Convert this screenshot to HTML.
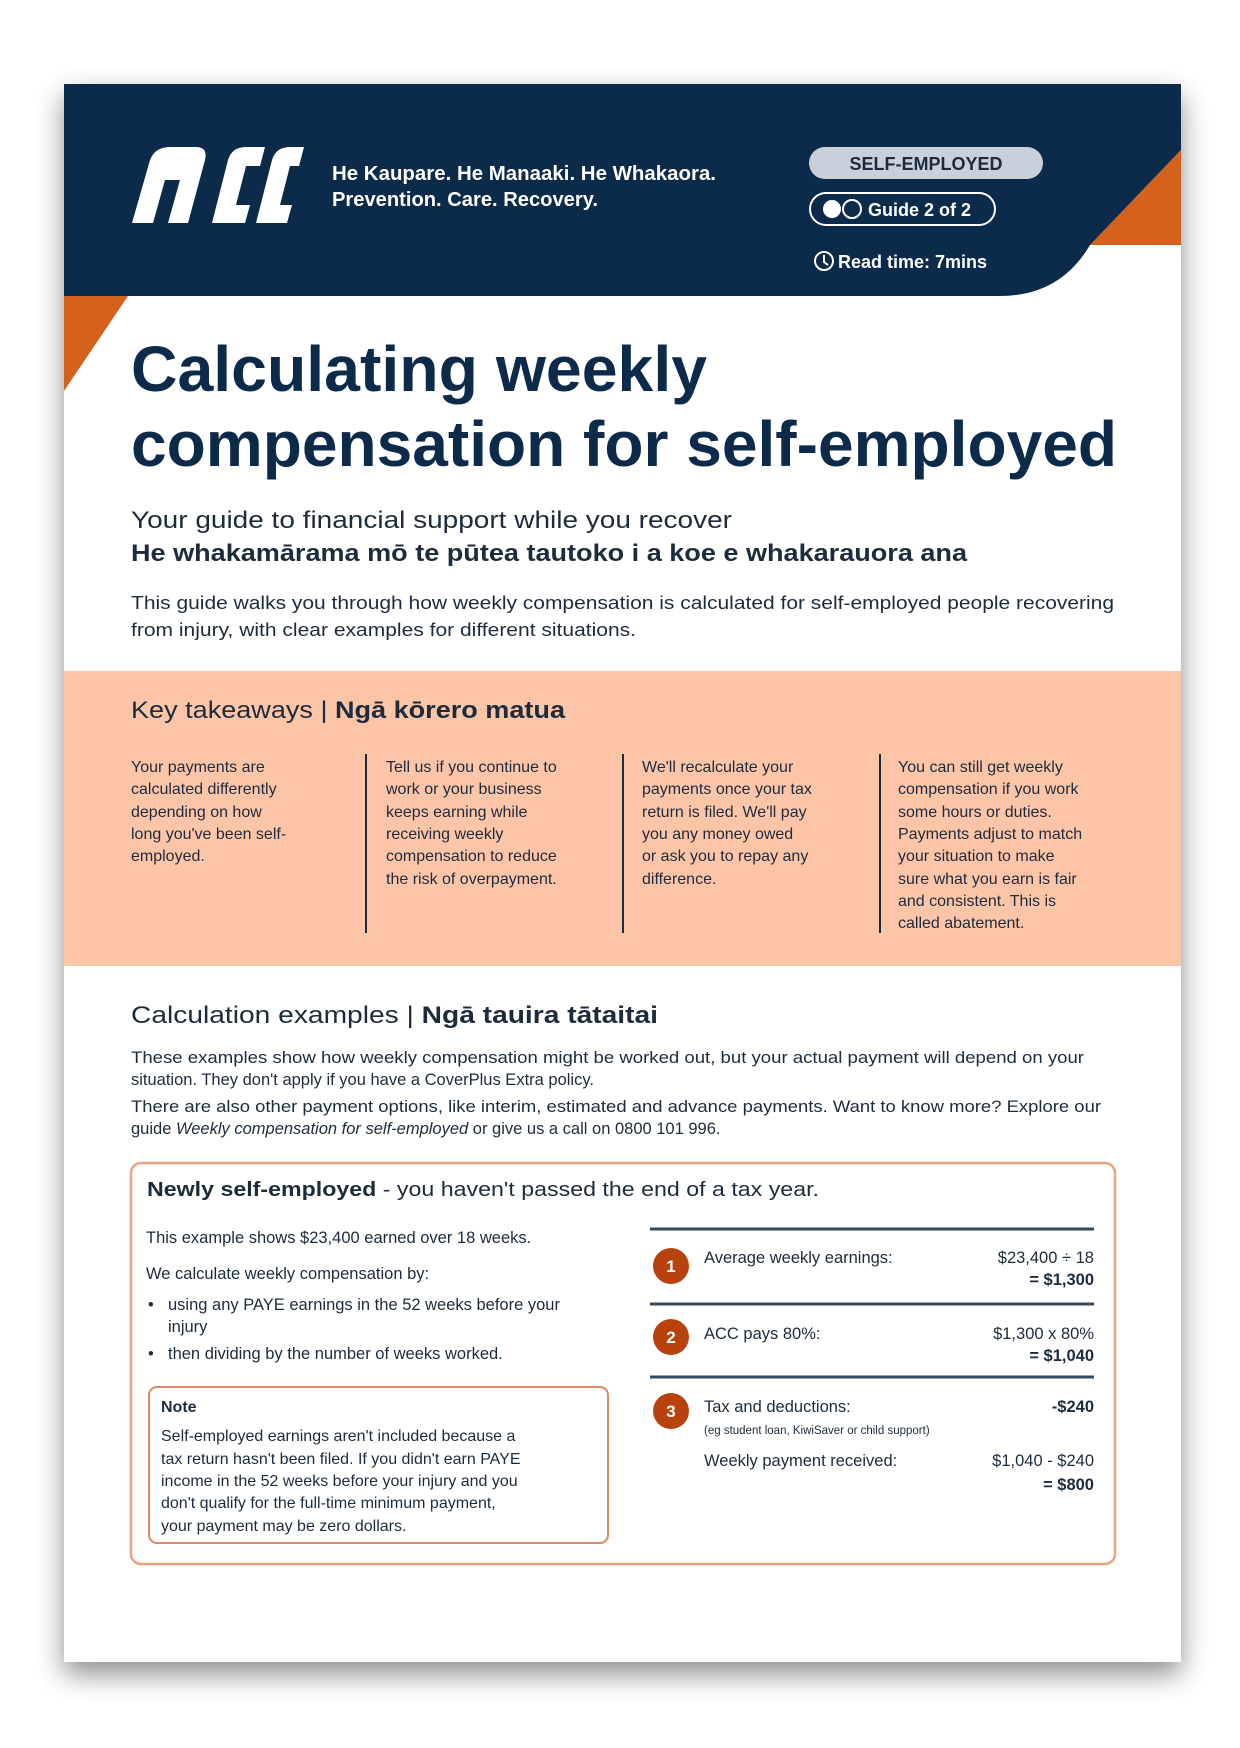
<!DOCTYPE html>
<html><head><meta charset="utf-8"><style>
html,body{margin:0;padding:0;background:#fff;}
svg{display:block;}
text{font-family:"Liberation Sans",sans-serif;fill:#1d2b3c;}
</style></head><body>
<svg width="1240" height="1748" viewBox="0 0 1240 1748" xmlns="http://www.w3.org/2000/svg">
<defs>
<filter id="sh" x="-10%" y="-10%" width="120%" height="120%"><feGaussianBlur stdDeviation="14"/></filter>
</defs>
<rect x="64" y="96" width="1117" height="1578" fill="#000" opacity="0.45" filter="url(#sh)"/>
<rect x="64" y="84" width="1117" height="1578" fill="#fff"/>
<!-- header -->
<polygon points="1181,150 1181,245 1090,245" fill="#d4621c"/>
<path d="M64,84 H1181 V150 L1090,245 H1181 V245 L1090,245 Q1060,296 1000,296 H64 Z" fill="#0c2a4a"/>
<polygon points="64,296 128,296 64,391" fill="#d4621c"/>
<!-- logo -->
<g fill="#fff">
<path d="M132,223 L150,160 Q155,147 170,147 H196 Q208,147 205,160 L188,223 H168 L180,180 H165 L153,223 Z"/>
<path d="M212,223 L228,160 Q232,147 246,147 H265 L260,166 H246 L236,205 H250 L245,223 Z"/>
<path d="M256,223 L272,160 Q276,147 290,147 H304 L299,166 H290 L280,205 H292 L287,223 Z"/>
</g>
<text x="332" y="180" font-size="20" font-weight="bold" style="fill:#fff" textLength="384" lengthAdjust="spacingAndGlyphs">He Kaupare. He Manaaki. He Whakaora.</text>
<text x="332" y="206" font-size="20" font-weight="bold" style="fill:#fff" textLength="266" lengthAdjust="spacingAndGlyphs">Prevention. Care. Recovery.</text>
<rect x="809" y="147" width="234" height="32" rx="16" fill="#c9d0d9"/>
<text x="926" y="170" font-size="18" font-weight="bold" text-anchor="middle" style="fill:#1d2b3c">SELF-EMPLOYED</text>
<rect x="810" y="193" width="185" height="32" rx="16" fill="none" stroke="#fff" stroke-width="2"/>
<circle cx="832" cy="209" r="9" fill="#fff"/>
<circle cx="852" cy="209" r="9" fill="none" stroke="#fff" stroke-width="2"/>
<text x="868" y="216" font-size="18" font-weight="bold" style="fill:#fff">Guide 2 of 2</text>
<circle cx="824" cy="261" r="9" fill="none" stroke="#fff" stroke-width="2"/>
<path d="M824,255 V262 L828,265" stroke="#fff" stroke-width="2" fill="none"/>
<text x="838" y="268" font-size="18" font-weight="bold" style="fill:#fff">Read time: 7mins</text>
<!-- title -->
<text x="131" y="391" font-size="64" font-weight="bold" style="fill:#0c2a4a" textLength="576" lengthAdjust="spacingAndGlyphs">Calculating weekly</text>
<text x="131" y="466" font-size="64" font-weight="bold" style="fill:#0c2a4a" textLength="986" lengthAdjust="spacingAndGlyphs">compensation for self-employed</text>
<text x="131" y="528" font-size="24" textLength="601" lengthAdjust="spacingAndGlyphs">Your guide to financial support while you recover</text>
<text x="131" y="561" font-size="24" font-weight="bold" textLength="836" lengthAdjust="spacingAndGlyphs">He whakamārama mō te pūtea tautoko i a koe e whakarauora ana</text>
<text x="131" y="609" font-size="18" textLength="983" lengthAdjust="spacingAndGlyphs">This guide walks you through how weekly compensation is calculated for self-employed people recovering</text>
<text x="131" y="636" font-size="18" textLength="505" lengthAdjust="spacingAndGlyphs">from injury, with clear examples for different situations.</text>
<!-- key takeaways -->
<rect x="64" y="671" width="1117" height="295" fill="#fcc5a8"/>
<text x="131" y="718" font-size="24" textLength="434" lengthAdjust="spacingAndGlyphs">Key takeaways | <tspan font-weight="bold">Ngā kōrero matua</tspan></text>
<g stroke="#1d2b3c" stroke-width="2"><line x1="366" y1="754" x2="366" y2="933"/><line x1="623" y1="754" x2="623" y2="933"/><line x1="880" y1="754" x2="880" y2="933"/></g>
<g font-size="16">
<text x="131" y="772">Your payments are</text><text x="131" y="794">calculated differently</text><text x="131" y="817">depending on how</text><text x="131" y="839">long you've been self-</text><text x="131" y="861">employed.</text>
<text x="386" y="772">Tell us if you continue to</text><text x="386" y="794">work or your business</text><text x="386" y="817">keeps earning while</text><text x="386" y="839">receiving weekly</text><text x="386" y="861">compensation to reduce</text><text x="386" y="884">the risk of overpayment.</text>
<text x="642" y="772">We'll recalculate your</text><text x="642" y="794">payments once your tax</text><text x="642" y="817">return is filed. We'll pay</text><text x="642" y="839">you any money owed</text><text x="642" y="861">or ask you to repay any</text><text x="642" y="884">difference.</text>
<text x="898" y="772">You can still get weekly</text><text x="898" y="794">compensation if you work</text><text x="898" y="817">some hours or duties.</text><text x="898" y="839">Payments adjust to match</text><text x="898" y="861">your situation to make</text><text x="898" y="884">sure what you earn is fair</text><text x="898" y="906">and consistent. This is</text><text x="898" y="928">called abatement.</text>
</g>
<!-- calc examples -->
<text x="131" y="1023" font-size="24" textLength="527" lengthAdjust="spacingAndGlyphs">Calculation examples | <tspan font-weight="bold">Ngā tauira tātaitai</tspan></text>
<g font-size="16.5">
<text x="131" y="1063" textLength="953" lengthAdjust="spacingAndGlyphs">These examples show how weekly compensation might be worked out, but your actual payment will depend on your</text>
<text x="131" y="1085">situation. They don't apply if you have a CoverPlus Extra policy.</text>
<text x="131" y="1112" textLength="970" lengthAdjust="spacingAndGlyphs">There are also other payment options, like interim, estimated and advance payments. Want to know more? Explore our</text>
<text x="131" y="1134">guide <tspan font-style="italic">Weekly compensation for self-employed</tspan> or give us a call on 0800 101 996.</text>
</g>
<rect x="131" y="1163" width="984" height="401" rx="10" fill="none" stroke="#eaa47c" stroke-width="2.5"/>
<text x="147" y="1196" font-size="20" textLength="672" lengthAdjust="spacingAndGlyphs"><tspan font-weight="bold">Newly self-employed</tspan> - you haven't passed the end of a tax year.</text>
<g font-size="16.5">
<text x="146" y="1243">This example shows $23,400 earned over 18 weeks.</text>
<text x="146" y="1279">We calculate weekly compensation by:</text>
<text x="148" y="1310">•</text><text x="168" y="1310">using any PAYE earnings in the 52 weeks before your</text>
<text x="168" y="1332">injury</text>
<text x="148" y="1359">•</text><text x="168" y="1359">then dividing by the number of weeks worked.</text>
</g>
<rect x="149" y="1387" width="459" height="156" rx="8" fill="none" stroke="#d98a63" stroke-width="2"/>
<g font-size="16">
<text x="161" y="1412" font-weight="bold">Note</text>
<text x="161" y="1441">Self-employed earnings aren't included because a</text>
<text x="161" y="1464">tax return hasn't been filed. If you didn't earn PAYE</text>
<text x="161" y="1486">income in the 52 weeks before your injury and you</text>
<text x="161" y="1508">don't qualify for the full-time minimum payment,</text>
<text x="161" y="1531">your payment may be zero dollars.</text>
</g>
<g stroke="#34495e" stroke-width="3"><line x1="650" y1="1229" x2="1094" y2="1229"/><line x1="650" y1="1304" x2="1094" y2="1304"/><line x1="650" y1="1377" x2="1094" y2="1377"/></g>
<g fill="#b8420e"><circle cx="671" cy="1266" r="18"/><circle cx="671" cy="1337" r="18"/><circle cx="671" cy="1411" r="18"/></g>
<g font-size="17" font-weight="bold" text-anchor="middle" style="fill:#fff"><text x="671" y="1272" style="fill:#fff">1</text><text x="671" y="1343" style="fill:#fff">2</text><text x="671" y="1417" style="fill:#fff">3</text></g>
<g font-size="16.5">
<text x="704" y="1263">Average weekly earnings:</text>
<text x="1094" y="1263" text-anchor="end">$23,400 ÷ 18</text>
<text x="1094" y="1285" text-anchor="end" font-weight="bold">= $1,300</text>
<text x="704" y="1339">ACC pays 80%:</text>
<text x="1094" y="1339" text-anchor="end">$1,300 x 80%</text>
<text x="1094" y="1361" text-anchor="end" font-weight="bold">= $1,040</text>
<text x="704" y="1412">Tax and deductions:</text>
<text x="1094" y="1412" text-anchor="end" font-weight="bold">-$240</text>
<text x="704" y="1434" font-size="11.5">(eg student loan, KiwiSaver or child support)</text>
<text x="704" y="1466">Weekly payment received:</text>
<text x="1094" y="1466" text-anchor="end">$1,040 - $240</text>
<text x="1094" y="1490" text-anchor="end" font-weight="bold">= $800</text>
</g>
</svg>
</body></html>
